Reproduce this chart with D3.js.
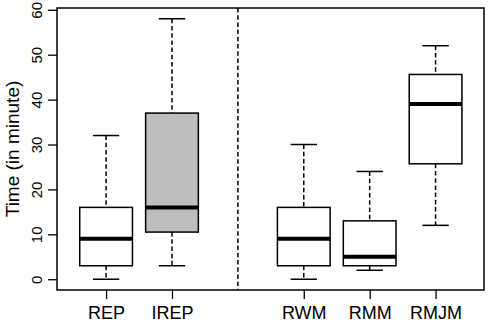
<!DOCTYPE html>
<html>
<head>
<meta charset="utf-8">
<script src="https://cdn.jsdelivr.net/npm/d3@7"></script>
<style>
  body { margin: 0; background: #fff; }
  text { font-family: "Liberation Sans", Arial, sans-serif; }
</style>
</head>
<body>
<div id="chart"></div>
<script>
// box summaries
var groups   = ["REP", "IREP", "RWM", "RMM", "RMJM"];
var position = [1, 2, 4, 5, 6];
var lowW     = [0, 3, 0, 2, 12];
var q1       = [3, 10.5, 3, 3, 25.7];
var median   = [9, 16, 9, 5, 39];
var q3       = [16, 37, 16, 13, 45.6];
var highW    = [32, 58, 30, 24, 52];
var fills    = ["#ffffff", "#bebebe", "#ffffff", "#ffffff", "#ffffff"];
var yTicks   = [0, 10, 20, 30, 40, 50, 60];
var dividerAt = 3;

var width = 488, height = 325;
var margin = {top: 8, right: 4, bottom: 35, left: 57};

var svg = d3.select("#chart").append("svg")
    .attr("width", width)
    .attr("height", height);

var x = d3.scaleLinear()
    .domain([0.255, 6.735])
    .range([margin.left, width - margin.right]);

var y = d3.scaleLinear()
    .domain([-2.4, 60.4])
    .range([height - margin.bottom, margin.top]);

var boxW = 0.8, stapleW = 0.4;
var dash = "4.5,2.7";

var data = groups.map(function(g, i){
    return {name: g, pos: position[i], lo: lowW[i], q1: q1[i], med: median[i], q3: q3[i], hi: highW[i], fill: fills[i]};
});

// divider
svg.append("line")
   .attr("x1", x(dividerAt)).attr("x2", x(dividerAt))
   .attr("y1", margin.top).attr("y2", height - margin.bottom)
   .attr("stroke", "#000").attr("stroke-width", 1.5)
   .attr("stroke-dasharray", dash);

var box = svg.append("g").selectAll("g")
   .data(data)
   .enter().append("g");

// whiskers
box.append("line")
   .attr("x1", d => x(d.pos)).attr("x2", d => x(d.pos))
   .attr("y1", d => y(d.hi)).attr("y2", d => y(d.q3))
   .attr("stroke", "#000").attr("stroke-width", 1.5)
   .attr("stroke-dasharray", dash);
box.append("line")
   .attr("x1", d => x(d.pos)).attr("x2", d => x(d.pos))
   .attr("y1", d => y(d.q1)).attr("y2", d => y(d.lo))
   .attr("stroke", "#000").attr("stroke-width", 1.5)
   .attr("stroke-dasharray", dash);

// staples
box.append("line")
   .attr("x1", d => x(d.pos - stapleW / 2)).attr("x2", d => x(d.pos + stapleW / 2))
   .attr("y1", d => y(d.hi)).attr("y2", d => y(d.hi))
   .attr("stroke", "#000").attr("stroke-width", 1.5);
box.append("line")
   .attr("x1", d => x(d.pos - stapleW / 2)).attr("x2", d => x(d.pos + stapleW / 2))
   .attr("y1", d => y(d.lo)).attr("y2", d => y(d.lo))
   .attr("stroke", "#000").attr("stroke-width", 1.5);

// boxes
box.append("rect")
   .attr("x", d => x(d.pos - boxW / 2))
   .attr("width", d => x(d.pos + boxW / 2) - x(d.pos - boxW / 2))
   .attr("y", d => y(d.q3))
   .attr("height", d => y(d.q1) - y(d.q3))
   .attr("fill", d => d.fill)
   .attr("stroke", "#000").attr("stroke-width", 1.5);

// medians
box.append("line")
   .attr("x1", d => x(d.pos - boxW / 2)).attr("x2", d => x(d.pos + boxW / 2))
   .attr("y1", d => y(d.med)).attr("y2", d => y(d.med))
   .attr("stroke", "#000").attr("stroke-width", 4);

// frame
svg.append("rect")
   .attr("x", margin.left).attr("y", margin.top)
   .attr("width", width - margin.left - margin.right)
   .attr("height", height - margin.top - margin.bottom)
   .attr("fill", "none").attr("stroke", "#000").attr("stroke-width", 1.5);

// y axis
var yAxis = svg.append("g")
   .attr("transform", "translate(" + margin.left + ",0)")
   .call(d3.axisLeft(y).tickValues(yTicks).tickSize(9).tickSizeOuter(0).tickPadding(0));
yAxis.select(".domain").remove();
yAxis.selectAll("line").attr("stroke-width", 1.3);
yAxis.selectAll("text")
   .attr("font-size", "15px")
   .attr("fill", "#000")
   .attr("text-anchor", "middle")
   .attr("x", 0).attr("dy", 0)
   .attr("transform", "translate(-15,0) rotate(-90)")
   .attr("y", 0);

// x axis
var xAxis = svg.append("g")
   .attr("transform", "translate(0," + (height - margin.bottom) + ")")
   .call(d3.axisBottom(x).tickValues(position).tickFormat((d, i) => groups[i]).tickSize(9).tickSizeOuter(0).tickPadding(7));
xAxis.select(".domain").remove();
xAxis.selectAll("line").attr("stroke-width", 1.3);
xAxis.selectAll("text")
   .attr("font-size", "18px")
   .attr("fill", "#000");

// y label
svg.append("text")
   .attr("transform", "translate(19," + ((margin.top + height - margin.bottom) / 2) + ") rotate(-90)")
   .attr("text-anchor", "middle")
   .attr("font-size", "19px")
   .text("Time (in minute)");
</script>
</body>
</html>
